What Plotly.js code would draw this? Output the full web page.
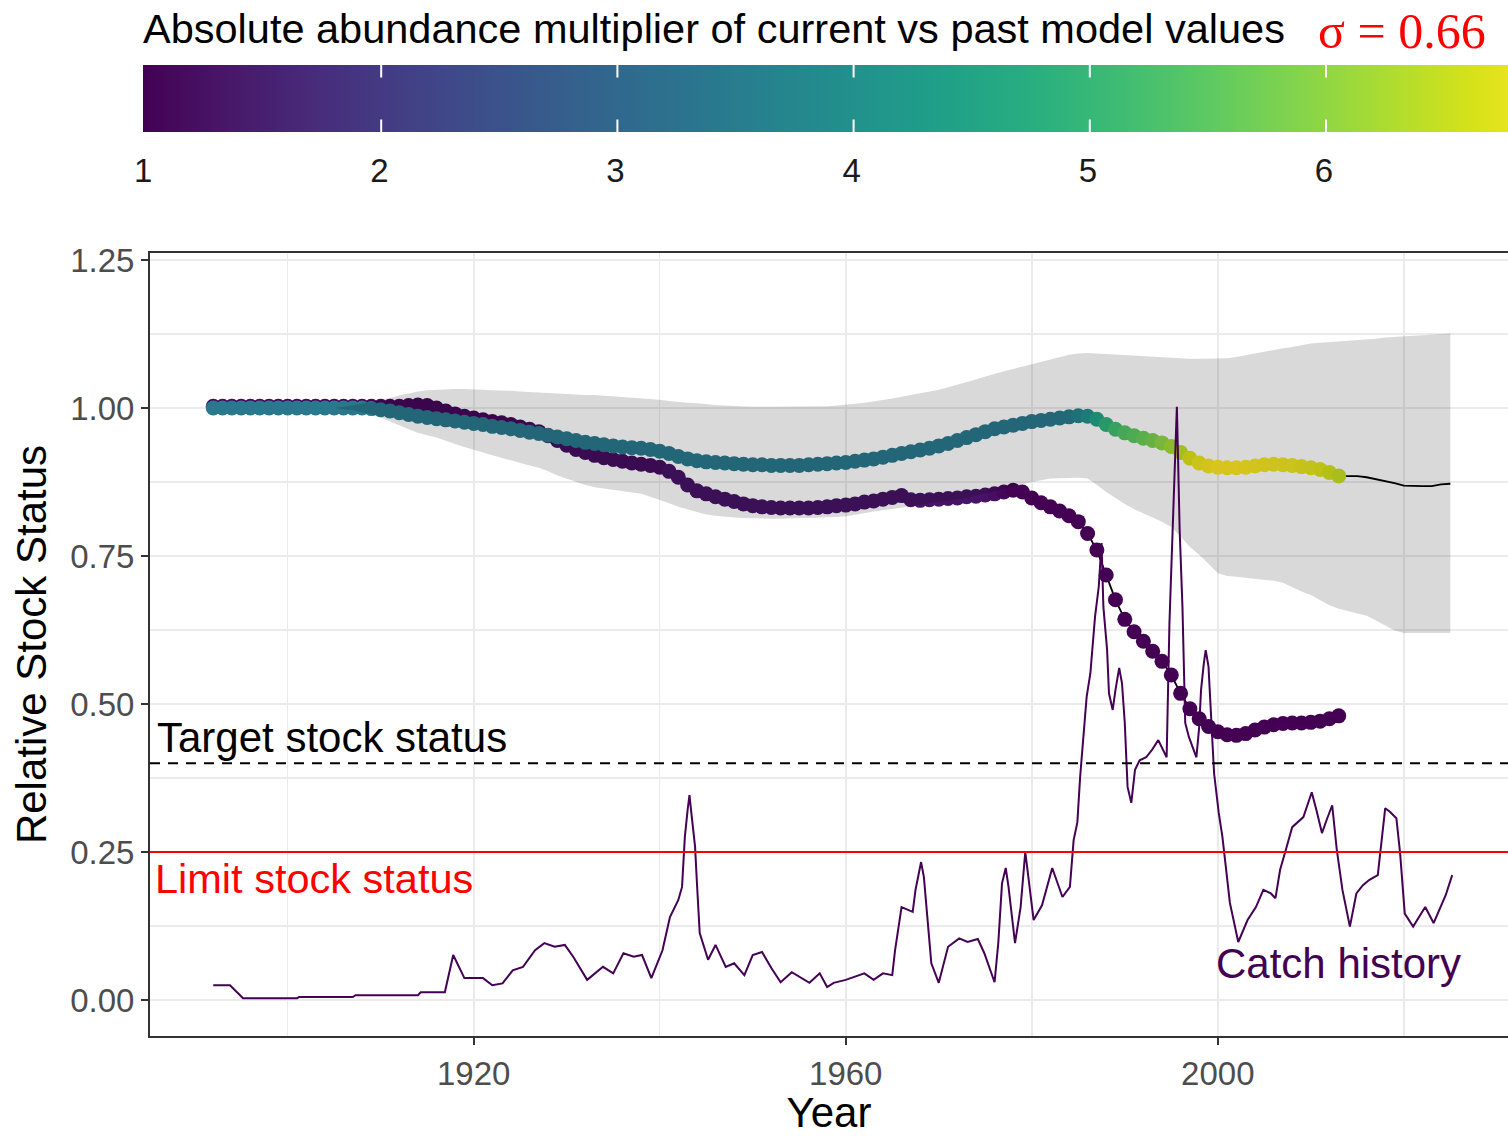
<!DOCTYPE html>
<html>
<head>
<meta charset="utf-8">
<script src="https://cdn.plot.ly/plotly-3.0.1.min.js"></script>
<style>
  html, body { margin: 0; padding: 0; background: #ffffff; overflow: hidden; }
  #chart { width: 1508px; height: 1136px; }
</style>
</head>
<body>
<div id="chart"></div>
<script>
// ---------------- data ----------------
const firstYear = 1892;

// current model relative status, coloured by abundance multiplier (1892-2013)
const upperStatus = [
  1.000,1.000,1.000,1.000,1.000,1.000,1.000,1.000,1.000,1.000,
  1.000,1.000,1.000,1.000,1.000,1.000,1.000,0.999,0.997,0.995,
  0.992,0.989,0.986,0.984,0.982,0.980,0.978,0.976,0.974,0.972,
  0.969,0.967,0.965,0.962,0.959,0.957,0.954,0.951,0.948,0.945,
  0.942,0.940,0.938,0.936,0.934,0.933,0.932,0.930,0.927,0.923,
  0.918,0.914,0.911,0.909,0.908,0.907,0.906,0.905,0.904,0.904,
  0.903,0.903,0.903,0.903,0.904,0.905,0.906,0.907,0.908,0.910,
  0.912,0.914,0.917,0.920,0.923,0.926,0.929,0.932,0.936,0.940,
  0.945,0.950,0.955,0.960,0.965,0.968,0.971,0.974,0.977,0.979,
  0.981,0.983,0.985,0.987,0.986,0.981,0.972,0.964,0.958,0.953,
  0.949,0.945,0.941,0.935,0.925,0.915,0.907,0.902,0.900,0.899,
  0.899,0.900,0.902,0.904,0.905,0.904,0.903,0.901,0.899,0.896,
  0.891,0.885
];
const upperMultiplier = [
  3.4,3.4,3.4,3.4,3.4,3.4,3.4,3.4,3.4,3.4,
  3.4,3.4,3.4,3.4,3.4,3.4,3.4,3.4,3.4,3.4,
  3.4,3.4,3.4,3.4,3.4,3.4,3.4,3.4,3.4,3.4,
  3.4,3.4,3.4,3.4,3.4,3.4,3.4,3.4,3.4,3.4,
  3.4,3.4,3.4,3.4,3.4,3.4,3.4,3.4,3.4,3.4,
  3.4,3.4,3.4,3.4,3.4,3.4,3.4,3.4,3.4,3.4,
  3.4,3.4,3.4,3.4,3.4,3.4,3.4,3.4,3.4,3.4,
  3.4,3.4,3.4,3.4,3.4,3.4,3.4,3.4,3.4,3.4,
  3.4,3.4,3.4,3.4,3.4,3.4,3.4,3.4,3.4,3.4,
  3.4,3.45,3.5,3.7,4.0,4.5,4.9,5.2,5.4,5.5,
  5.65,5.8,6.0,6.2,6.45,6.7,6.85,6.95,7.0,7.0,
  7.0,6.98,6.95,6.92,6.9,6.88,6.85,6.82,6.78,6.72,
  6.62,6.5
];
// projection of the current model beyond the coloured points (2014-2025)
const projectionStatus = [0.885,0.885,0.883,0.880,0.877,0.873,0.869,0.868,0.868,0.868,0.871,0.872];

// past model relative status (1892-2013)
const lowerStatus = [
  1.003,1.003,1.003,1.003,1.003,1.003,1.003,1.003,1.003,1.003,
  1.003,1.003,1.003,1.003,1.003,1.003,1.003,1.003,1.003,1.003,
  1.003,1.004,1.005,1.004,1.000,0.995,0.990,0.986,0.983,0.980,
  0.977,0.975,0.972,0.968,0.964,0.960,0.953,0.945,0.937,0.930,
  0.925,0.920,0.916,0.913,0.910,0.907,0.905,0.903,0.900,0.893,
  0.883,0.870,0.860,0.855,0.850,0.846,0.842,0.838,0.835,0.833,
  0.832,0.831,0.831,0.831,0.831,0.832,0.833,0.835,0.836,0.838,
  0.841,0.843,0.846,0.849,0.852,0.845,0.844,0.845,0.846,0.847,
  0.848,0.850,0.851,0.853,0.855,0.858,0.861,0.858,0.848,0.840,
  0.833,0.826,0.818,0.808,0.788,0.760,0.718,0.676,0.643,0.622,
  0.606,0.589,0.572,0.549,0.518,0.492,0.475,0.462,0.453,0.448,
  0.447,0.450,0.456,0.461,0.465,0.467,0.468,0.468,0.469,0.471,
  0.475,0.480
];
const lowerMultiplier = [
  1.1,1.1,1.1,1.1,1.1,1.1,1.1,1.1,1.1,1.1,
  1.1,1.1,1.1,1.1,1.1,1.1,1.1,1.1,1.1,1.1,
  1.1,1.1,1.1,1.1,1.1,1.1,1.1,1.1,1.1,1.1,
  1.1,1.1,1.1,1.1,1.2,1.2,1.2,1.2,1.2,1.2,
  1.2,1.2,1.2,1.2,1.2,1.2,1.2,1.2,1.2,1.3,
  1.3,1.3,1.3,1.3,1.3,1.3,1.3,1.3,1.3,1.3,
  1.3,1.3,1.3,1.3,1.3,1.3,1.3,1.3,1.3,1.3,
  1.3,1.3,1.3,1.3,1.3,1.3,1.3,1.3,1.3,1.3,
  1.3,1.3,1.3,1.3,1.2,1.1,1.0,1.0,1.0,1.0,
  1.0,1.0,1.0,1.0,1.0,1.0,1.0,1.0,1.0,1.0,
  1.0,1.0,1.0,1.0,1.0,1.0,1.0,1.0,1.0,1.0,
  1.0,1.0,1.0,1.0,1.0,1.0,1.0,1.0,1.0,1.0,
  1.0,1.0
];

// uncertainty ribbon (1892-2025)
const ribbonUpper = [
  1.000,1.000,1.000,1.000,1.000,1.000,1.000,1.000,1.000,1.000,
  1.000,1.000,1.000,1.000,1.002,1.004,1.007,1.010,1.013,1.017,
  1.021,1.025,1.028,1.030,1.031,1.032,1.032,1.032,1.032,1.031,
  1.030,1.030,1.029,1.028,1.027,1.027,1.026,1.025,1.024,1.023,
  1.022,1.022,1.021,1.020,1.019,1.018,1.017,1.016,1.014,1.012,
  1.010,1.009,1.008,1.006,1.005,1.004,1.003,1.002,1.002,1.002,
  1.002,1.002,1.002,1.002,1.002,1.003,1.003,1.004,1.005,1.007,
  1.009,1.011,1.013,1.016,1.019,1.022,1.024,1.027,1.031,1.035,
  1.039,1.043,1.048,1.053,1.058,1.062,1.066,1.070,1.075,1.079,
  1.083,1.087,1.090,1.092,1.093,1.092,1.091,1.090,1.089,1.088,
  1.087,1.086,1.085,1.084,1.083,1.083,1.083,1.083,1.083,1.084,
  1.086,1.089,1.093,1.096,1.098,1.101,1.103,1.106,1.109,1.110,
  1.111,1.113,1.113,1.114,1.115,1.117,1.119,1.120,1.121,1.122,
  1.123,1.125,1.125,1.126
];
const ribbonLower = [
  1.000,1.000,1.000,1.000,1.000,1.000,1.000,1.000,1.000,1.000,
  1.000,1.000,1.000,1.000,0.998,0.996,0.993,0.989,0.984,0.978,
  0.971,0.964,0.958,0.954,0.950,0.945,0.939,0.934,0.929,0.925,
  0.920,0.915,0.911,0.907,0.903,0.899,0.893,0.886,0.880,0.875,
  0.870,0.866,0.863,0.861,0.859,0.857,0.855,0.850,0.845,0.839,
  0.833,0.828,0.824,0.820,0.818,0.816,0.815,0.814,0.814,0.813,
  0.813,0.813,0.813,0.814,0.814,0.815,0.815,0.816,0.817,0.819,
  0.822,0.825,0.827,0.829,0.831,0.834,0.836,0.839,0.842,0.844,
  0.846,0.848,0.852,0.855,0.859,0.863,0.867,0.871,0.875,0.878,
  0.881,0.882,0.882,0.882,0.881,0.870,0.858,0.848,0.838,0.829,
  0.822,0.815,0.808,0.799,0.783,0.765,0.752,0.737,0.721,0.716,
  0.715,0.714,0.712,0.710,0.708,0.705,0.698,0.690,0.684,0.675,
  0.667,0.661,0.657,0.653,0.649,0.641,0.633,0.624,0.620,0.620,
  0.620,0.620,0.620,0.620
];

// catch history (scaled to the status axis)
const catchYear = [
  1892.0,1893.8,1895.2,1901.0,1901.2,1907.0,1907.3,1914.0,1914.3,1916.9,
  1917.8,1919.0,1921.0,1922.0,1923.1,1924.2,1925.3,1926.6,1927.6,1928.7,
  1929.8,1930.7,1932.2,1933.0,1933.9,1935.0,1936.1,1937.2,1938.1,1939.1,
  1940.3,1941.1,1942.0,1942.4,1942.7,1943.0,1943.2,1943.4,1943.8,1944.0,
  1944.2,1944.3,1945.2,1946.0,1947.1,1948.0,1949.1,1950.0,1951.0,1952.0,
  1953.0,1954.2,1956.1,1957.2,1958.0,1958.7,1960.0,1962.0,1963.0,1964.0,
  1965.0,1965.3,1966.0,1966.7,1967.2,1967.5,1968.1,1968.4,1968.8,1969.2,
  1970.0,1971.0,1972.2,1973.1,1974.2,1974.9,1976.0,1976.4,1976.8,1977.2,
  1977.5,1978.2,1978.8,1979.3,1979.5,1980.2,1981.1,1982.2,1983.3,1984.1,
  1984.5,1984.9,1985.2,1985.9,1986.3,1986.8,1987.2,1987.5,1987.7,1988.1,
  1988.3,1988.7,1989.0,1989.4,1989.7,1990.0,1990.3,1990.7,1991.1,1991.6,
  1992.3,1992.9,1993.6,1994.1,1994.5,1994.8,1995.1,1995.4,1995.6,1995.7,
  1995.9,1996.2,1996.5,1996.9,1997.4,1997.7,1998.0,1998.2,1998.5,1998.7,
  1999.0,1999.2,1999.6,2000.1,2000.5,2001.3,2002.2,2003.2,2004.1,2004.9,
  2005.7,2006.2,2006.7,2007.3,2008.0,2009.2,2010.1,2010.6,2011.2,2011.7,
  2012.3,2012.8,2013.4,2014.2,2014.9,2015.6,2016.3,2017.2,2017.6,2018.0,
  2018.5,2019.2,2019.6,2020.1,2021.0,2022.3,2023.2,2024.5,2025.2
];
const catchValue = [
  0.025,0.025,0.003,0.003,0.005,0.005,0.008,0.008,0.013,0.013,
  0.076,0.037,0.037,0.025,0.028,0.050,0.056,0.084,0.096,0.090,
  0.093,0.073,0.034,0.045,0.056,0.045,0.079,0.073,0.076,0.037,
  0.084,0.140,0.169,0.191,0.275,0.321,0.346,0.316,0.259,0.198,
  0.146,0.113,0.068,0.093,0.056,0.062,0.042,0.076,0.081,0.054,
  0.030,0.047,0.029,0.045,0.022,0.029,0.034,0.045,0.034,0.045,
  0.042,0.084,0.157,0.152,0.149,0.186,0.233,0.208,0.130,0.062,
  0.029,0.090,0.104,0.098,0.103,0.079,0.030,0.096,0.197,0.223,
  0.191,0.096,0.157,0.250,0.225,0.135,0.160,0.223,0.174,0.191,
  0.270,0.300,0.377,0.512,0.552,0.647,0.698,0.772,0.664,0.591,
  0.518,0.490,0.524,0.561,0.535,0.468,0.360,0.333,0.389,0.405,
  0.410,0.422,0.439,0.422,0.410,0.636,0.782,0.929,1.002,0.934,
  0.794,0.664,0.468,0.444,0.422,0.410,0.461,0.524,0.569,0.591,
  0.563,0.495,0.383,0.316,0.275,0.164,0.098,0.135,0.157,0.186,
  0.180,0.172,0.220,0.253,0.292,0.309,0.351,0.321,0.282,0.304,
  0.329,0.253,0.186,0.124,0.180,0.194,0.203,0.211,0.265,0.324,
  0.318,0.307,0.248,0.146,0.124,0.157,0.130,0.177,0.211
];

// reference levels, labels and ticks
const targetLevel = 0.40;
const limitLevel = 0.25;
const sigmaLabel = 'σ = 0.66';
const colorTitle = 'Absolute abundance multiplier of current vs past model values';
const xTitle = 'Year';
const yTitle = 'Relative Stock Status';
const multiplierTicks = [1, 2, 3, 4, 5, 6, 7];
const multiplierRange = [1, 7];
const xMajorTicks = [1920, 1960, 2000];
const xMinorTicks = [1900, 1940, 1980, 2020];
const yMajorTicks = [0, 0.25, 0.5, 0.75, 1.0, 1.25];
const yMajorLabels = ['0.00', '0.25', '0.50', '0.75', '1.00', '1.25'];
const yMinorTicks = [0.125, 0.375, 0.625, 0.875, 1.125];

// ---------------- geometry (page pixels) ----------------
const W = 1508, H = 1136;
const M = { l: 150, r: 0, t: 253, b: 100 };
const plotW = W - M.l - M.r, plotH = H - M.t - M.b;
const CB = { left: 145, top: 65, bottom: 132, unitPx: 236.2, tickLen: 13 };

// ---------------- build year vectors ----------------
function yearsFor(n, start) { const a = []; for (let i = 0; i < n; i++) a.push(start + i); return a; }
const pointYears = yearsFor(upperStatus.length, firstYear);
const projYears = yearsFor(projectionStatus.length, firstYear + upperStatus.length);
const ribbonYears = yearsFor(ribbonUpper.length, firstYear);

const FONT = 'Liberation Sans, Arial, Helvetica, sans-serif';

const traces = [];
traces.push({
  type: 'scatter', mode: 'lines', hoverinfo: 'skip',
  x: pointYears.concat(projYears), y: upperStatus.concat(projectionStatus),
  line: { color: '#000000', width: 1.8 }
});
traces.push({
  type: 'scatter', mode: 'lines', hoverinfo: 'skip',
  x: pointYears, y: lowerStatus,
  line: { color: '#000000', width: 1.8 }
});
traces.push({
  type: 'scatter', mode: 'markers',
  x: pointYears, y: lowerStatus,
  marker: { size: 15, color: lowerMultiplier, colorscale: 'Viridis',
            cmin: multiplierRange[0], cmax: multiplierRange[1], showscale: false, line: { width: 0 } }
});
traces.push({
  type: 'scatter', mode: 'markers',
  x: pointYears, y: upperStatus,
  marker: {
    size: 15, color: upperMultiplier, colorscale: 'Viridis',
    cmin: multiplierRange[0], cmax: multiplierRange[1], line: { width: 0 },
    showscale: true,
    colorbar: {
      orientation: 'h',
      xref: 'container', yref: 'container',
      x: (CB.left + 14) / W, xanchor: 'left',
      y: 1 - CB.top / H, yanchor: 'top',
      lenmode: 'pixels', len: CB.unitPx * (multiplierRange[1] - multiplierRange[0]),
      thicknessmode: 'pixels', thickness: CB.bottom - CB.top,
      outlinewidth: 0, xpad: 0, ypad: 0,
      tickmode: 'array', tickvals: multiplierTicks,
      ticks: 'outside', ticklen: 11, tickwidth: 1, tickcolor: 'rgba(0,0,0,0)',
      tickfont: { family: FONT, size: 33, color: '#1a1a1a' }
    }
  }
});
traces.push({
  type: 'scatter', mode: 'lines', hoverinfo: 'skip',
  x: ribbonYears.concat(ribbonYears.slice().reverse()),
  y: ribbonUpper.concat(ribbonLower.slice().reverse()),
  fill: 'toself', fillcolor: 'rgba(0,0,0,0.15)', line: { width: 0, color: 'rgba(0,0,0,0)' }
});
traces.push({
  type: 'scatter', mode: 'lines',
  x: catchYear, y: catchValue,
  line: { color: '#440154', width: 2 }
});

// white tick marks on the top and bottom edges of the colour bar (ggplot style)
const pxToPaperX = px => (px - M.l) / plotW;
const pxToPaperY = py => (H - M.b - py) / plotH;
const cbTickMarks = [];
multiplierTicks.slice(1).forEach(v => {
  const px = CB.left + (v - multiplierRange[0]) * CB.unitPx;
  if (px > W) return;
  cbTickMarks.push({ text: '', xref: 'paper', yref: 'paper', x: pxToPaperX(px), y: pxToPaperY(CB.top),
    showarrow: true, arrowhead: 0, arrowwidth: 2, arrowcolor: '#ffffff', ax: 0, ay: CB.tickLen,
    standoff: 0, startstandoff: 0, borderpad: 0, font: { size: 1 } });
  cbTickMarks.push({ text: '', xref: 'paper', yref: 'paper', x: pxToPaperX(px), y: pxToPaperY(CB.bottom),
    showarrow: true, arrowhead: 0, arrowwidth: 2, arrowcolor: '#ffffff', ax: 0, ay: -CB.tickLen,
    standoff: 0, startstandoff: 0, borderpad: 0, font: { size: 1 } });
});

const layout = {
  width: W, height: H,
  margin: { l: M.l, r: M.r, t: M.t, b: M.b, pad: 0 },
  paper_bgcolor: '#ffffff', plot_bgcolor: '#ffffff',
  font: { family: FONT, color: '#000000' },
  showlegend: false,
  xaxis: {
    range: [1885.2, 2031.2], tickmode: 'array', tickvals: xMajorTicks,
    ticks: 'outside', ticklen: 7, tickwidth: 2, tickcolor: '#333333',
    tickfont: { family: FONT, size: 33, color: '#4d4d4d' },
    showline: true, linecolor: '#333333', linewidth: 2, mirror: true,
    showgrid: true, gridcolor: '#ebebeb', gridwidth: 2, zeroline: false,
    minor: { tickmode: 'array', tickvals: xMinorTicks, showgrid: true, gridcolor: '#ebebeb', gridwidth: 1.5, ticks: '' },
    title: { text: xTitle, font: { family: FONT, size: 42, color: '#000000' }, standoff: 21 }
  },
  yaxis: {
    range: [-0.0608, 1.2618], tickmode: 'array', tickvals: yMajorTicks, ticktext: yMajorLabels,
    ticks: 'outside', ticklen: 7, tickwidth: 2, tickcolor: '#333333',
    tickfont: { family: FONT, size: 33, color: '#4d4d4d' },
    showline: true, linecolor: '#333333', linewidth: 2, mirror: false,
    showgrid: true, gridcolor: '#ebebeb', gridwidth: 2, zeroline: false,
    minor: { tickmode: 'array', tickvals: yMinorTicks, showgrid: true, gridcolor: '#ebebeb', gridwidth: 1.5, ticks: '' },
    title: { text: yTitle, font: { family: FONT, size: 42, color: '#000000' }, standoff: 10 }
  },
  shapes: [
    { type: 'line', xref: 'paper', x0: 0, x1: 1, yref: 'y', y0: targetLevel, y1: targetLevel,
      line: { color: '#000000', width: 2, dash: '10px,8px' } },
    { type: 'line', xref: 'paper', x0: 0, x1: 1, yref: 'y', y0: limitLevel, y1: limitLevel,
      line: { color: '#ff0000', width: 2 } }
  ],
  annotations: [
    { text: 'Target stock status', xref: 'paper', x: 0.004, xanchor: 'left', yref: 'y', y: 0.444, yanchor: 'middle',
      showarrow: false, font: { family: FONT, size: 42, color: '#000000' } },
    { text: 'Limit stock status', xref: 'paper', x: 0.002, xanchor: 'left', yref: 'y', y: 0.206, yanchor: 'middle',
      showarrow: false, font: { family: FONT, size: 41.5, color: '#ff0000' } },
    { text: 'Catch history', xref: 'x', x: 2013, xanchor: 'center', yref: 'y', y: 0.0625, yanchor: 'middle',
      showarrow: false, font: { family: FONT, size: 42, color: '#440154' } },
    { text: colorTitle, xref: 'paper', x: pxToPaperX(141), xanchor: 'left', yref: 'paper', y: pxToPaperY(28), yanchor: 'middle',
      showarrow: false, font: { family: FONT, size: 41.5, color: '#000000' } },
    { text: sigmaLabel, xref: 'paper', x: pxToPaperX(1316), xanchor: 'left', yref: 'paper', y: pxToPaperY(1), yanchor: 'top',
      showarrow: false, font: { family: 'Liberation Serif, Times New Roman, serif', size: 50, color: '#ff0000' } }
  ].concat(cbTickMarks)
};

Plotly.newPlot('chart', traces, layout, { displayModeBar: false, staticPlot: true });
</script>
</body>
</html>
